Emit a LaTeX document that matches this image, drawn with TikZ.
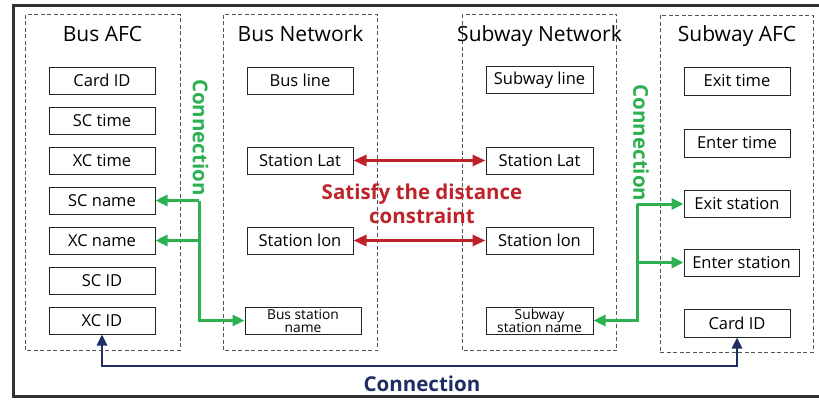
\documentclass[tikz,border=0pt]{standalone}
\usepackage{fontspec}
\setmainfont{Open Sans}
\usetikzlibrary{arrows.meta}

\definecolor{linkgreen}{RGB}{44,176,80}
\definecolor{distred}{RGB}{190,35,42}
\definecolor{navyline}{RGB}{30,45,98}
\definecolor{framegray}{RGB}{50,50,50}
\definecolor{dashgray}{RGB}{85,85,85}

\tikzset{
  fieldbox/.style={draw=black!85, line width=1pt, minimum width=106pt,
    minimum height=27pt, inner sep=0pt, font=\fontsize{16.5}{18}\selectfont},
  smallbox/.style={fieldbox, font=\fontsize{13.8}{14.5}\selectfont, align=center},
  groupbox/.style={draw=dashgray, line width=0.8pt, dash pattern=on 4pt off 2.5pt},
  grouptitle/.style={anchor=base, inner sep=0pt, font=\fontsize{21}{23}\selectfont},
  greenlink/.style={draw=linkgreen, line width=3pt, line join=miter},
  greentip/.style={-{Triangle[length=12pt,width=11pt]}},
  redlink/.style={draw=distred, line width=3pt,
    {Triangle[length=13pt,width=11pt]}-{Triangle[length=13pt,width=11pt]}},
  navylink/.style={draw=navyline, line width=2.6pt, line join=miter,
    {Triangle[length=11pt,width=10pt]}-{Triangle[length=11pt,width=10pt]}},
  boldlabel/.style={font=\bfseries\fontsize{20.5}{24}\selectfont, inner sep=0pt}
}

\begin{document}
\begin{tikzpicture}[x=1pt, y=-1pt]
  \useasboundingbox (0,0) rectangle (819,399);

  % outer frame (open on the right)
  \draw[framegray, line width=2.6pt] (819,5.3) -- (13.5,5.3) -- (13.5,396.5) -- (819,396.5);

  % dashed group frames
  \draw[groupbox] (25.3,14.7) rectangle (180,350.7);
  \draw[groupbox] (223.3,14.7) rectangle (377.7,350.7);
  \draw[groupbox] (462.3,14) rectangle (616.7,350.7);
  \draw[groupbox] (660,15) rectangle (813,352.7);

  % group titles
  \node[grouptitle] (tBusAFC) at (102.5,41) {Bus AFC};
  \node[grouptitle] (tBusNet) at (300.5,41) {Bus Network};
  \node[grouptitle] (tSubNet) at (539.5,41) {Subway Network};
  \node[grouptitle] (tSubAFC) at (737,41) {Subway AFC};

  % Bus AFC fields
  \node[fieldbox] (bcard) at (102,80.5) {Card ID};
  \node[fieldbox] (bsct)  at (102,120.5) {SC time};
  \node[fieldbox] (bxct)  at (102,160.5) {XC time};
  \node[fieldbox] (bscn)  at (102,200.5) {SC name};
  \node[fieldbox] (bxcn)  at (102,240.5) {XC name};
  \node[fieldbox] (bscid) at (102,280.5) {SC ID};
  \node[fieldbox] (bxcid) at (102,320.5) {XC ID};

  % Bus network fields
  \node[fieldbox] (bline) at (300,80.5) {Bus line};
  \node[fieldbox] (blat)  at (300,160.5) {Station Lat};
  \node[fieldbox] (blon)  at (300,240.5) {Station lon};
  \node[smallbox, minimum width=116pt] (bsname) at (303,320.5) {Bus station\\[-1.5pt]name};

  % Subway network fields
  \node[fieldbox, minimum width=107pt] (sline) at (539.5,80) {Subway line};
  \node[fieldbox, minimum width=107pt] (slat)  at (539.5,160.5) {Station Lat};
  \node[fieldbox, minimum width=107pt] (slon)  at (539.5,240.5) {Station lon};
  \node[smallbox, minimum width=107pt] (ssname) at (539.5,320.5) {Subway\\[-1.5pt]station name};

  % Subway AFC fields
  \node[fieldbox, minimum height=28pt] (sexitt)  at (737,81) {Exit time};
  \node[fieldbox, minimum height=28pt] (sentt)   at (737,143) {Enter time};
  \node[fieldbox] (sexits)  at (737,204) {Exit station};
  \node[fieldbox, minimum width=115pt] (sents) at (741.5,262.5) {Enter station};
  \node[fieldbox, minimum height=28pt] (scard)   at (737,323) {Card ID};

  % bus-side station name links
  \coordinate (gL1) at (199,200.5);
  \coordinate (gL2) at (199,240.5);
  \draw[greenlink, greentip] (gL1) |- (bsname.west);
  \draw[greenlink, greentip] (gL1) -- (bscn.east);
  \draw[greenlink, greentip] (gL2) -- (bxcn.east);
  \node[boldlabel, text=linkgreen, rotate=-90] (gLlabel) at (200.5,137.5) {Connection};

  % subway-side station name links
  \coordinate (gR1) at (637,204);
  \coordinate (gR2) at (637,262.5);
  \draw[greenlink, greentip] (gR1) |- (ssname.east);
  \draw[greenlink, greentip] (gR1) -- (sexits.west);
  \draw[greenlink, greentip] (gR2) -- (sents.west);
  \node[boldlabel, text=linkgreen, rotate=-90] (gRlabel) at (641,143) {Connection};

  % distance constraint between station coordinates
  \draw[redlink] (blat.east) -- (slat.west);
  \draw[redlink] (blon.east) -- (slon.west);
  \node[boldlabel, text=distred, align=center] (dist) at (422,203.5)
    {Satisfy the distance\\constraint};

  % card link between the two AFC tables
  \coordinate (navybot) at (420,366);
  \draw[navylink] (bxcid.south) |- (navybot) -| (scard.south);
  \node[boldlabel, text=navyline] (navylabel) at (422,383.5) {Connection};
\end{tikzpicture}
\end{document}
